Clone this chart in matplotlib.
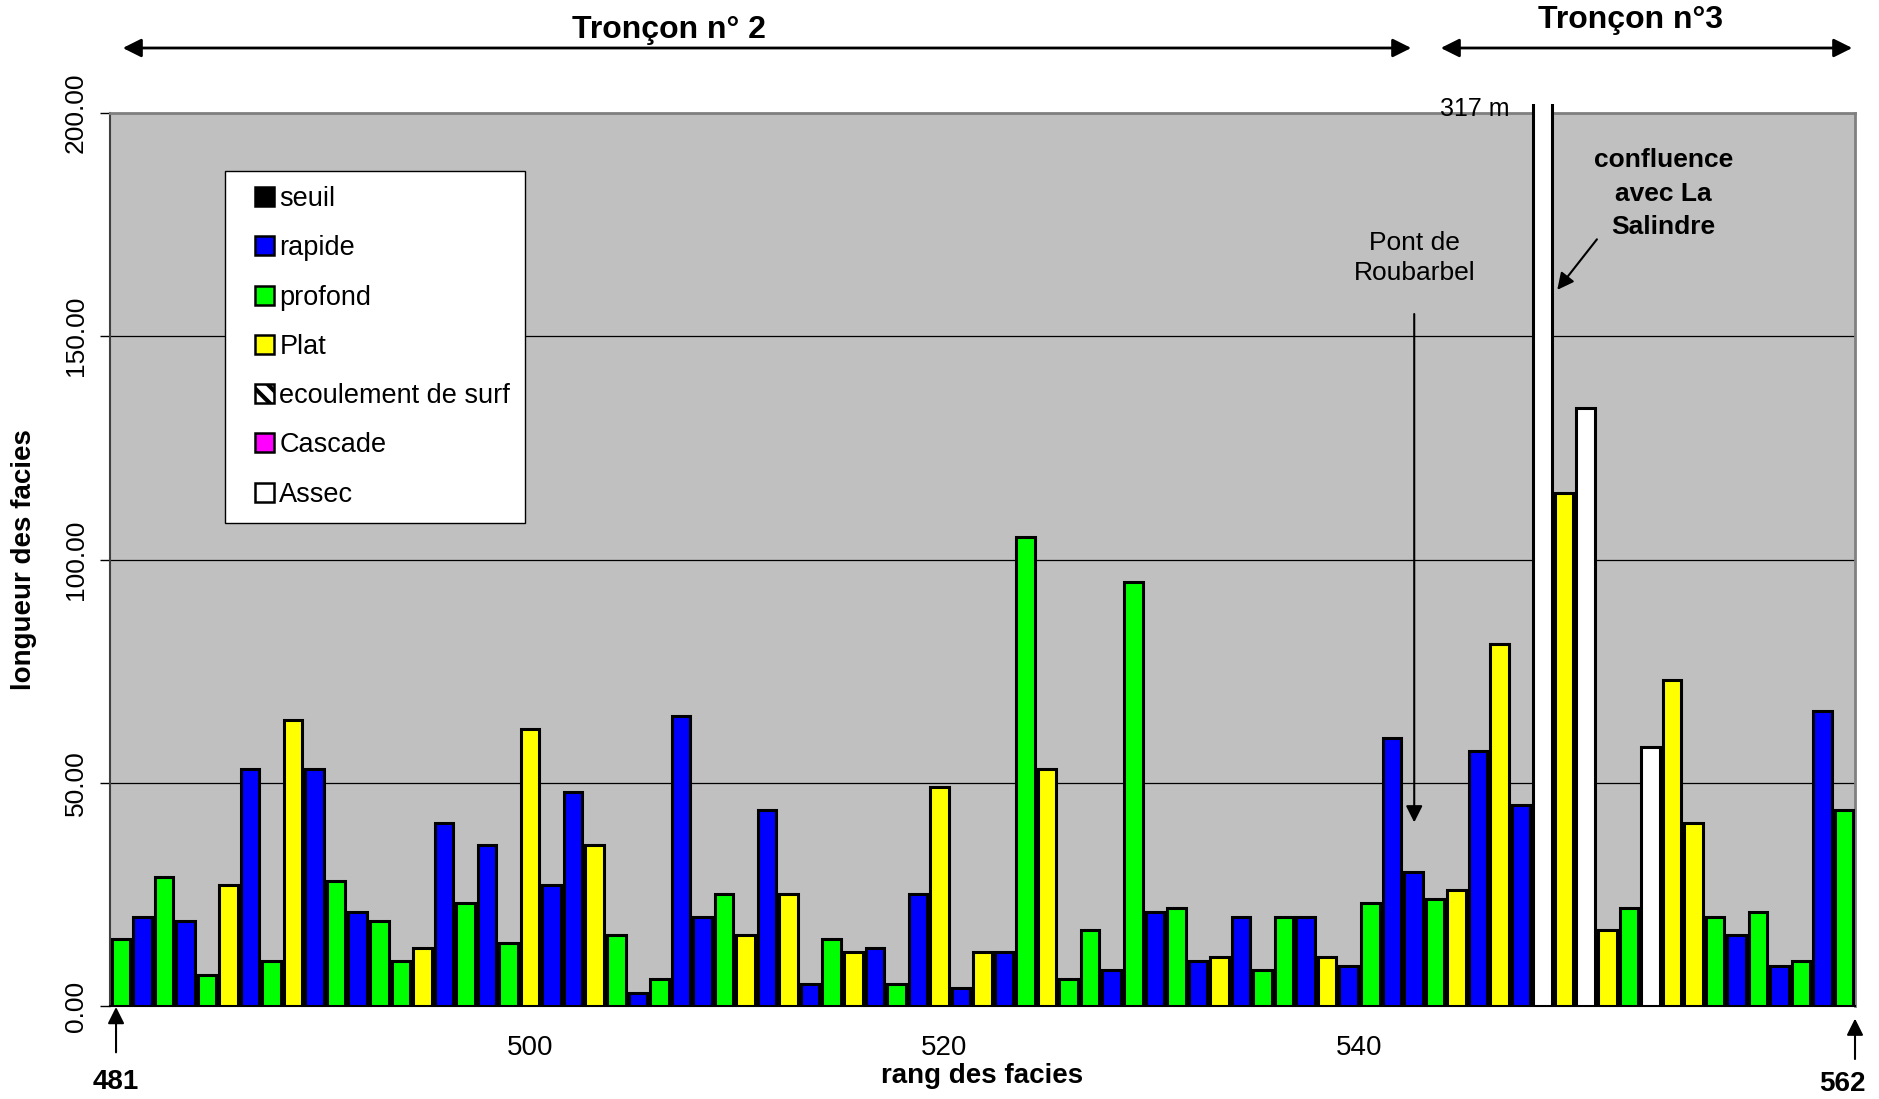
import numpy as np
import matplotlib
matplotlib.use("Agg")
import matplotlib.pyplot as plt
from matplotlib.patches import Patch, FancyArrowPatch, Rectangle
from matplotlib.legend_handler import HandlerPatch
from matplotlib.transforms import Bbox, TransformedBbox

# rang des facies 481..561
rangs = list(range(481, 562))

types = [
    "profond", "rapide", "profond", "rapide", "profond", "Plat", "rapide", "profond", "Plat", "rapide",
    "profond", "rapide", "profond", "profond", "Plat", "rapide", "profond", "rapide", "profond", "Plat",
    "rapide", "rapide", "Plat", "profond", "rapide", "profond", "rapide", "rapide", "profond", "Plat",
    "rapide", "Plat", "rapide", "profond", "Plat", "rapide", "profond", "rapide", "Plat", "rapide",
    "Plat", "rapide", "profond", "Plat", "profond", "profond", "rapide", "profond", "rapide", "profond",
    "rapide", "Plat", "rapide", "profond", "profond", "rapide", "Plat", "rapide", "profond", "rapide",
    "rapide", "profond", "Plat", "rapide", "Plat", "rapide", "Assec", "Plat", "Assec", "Plat",
    "profond", "Assec", "Plat", "Plat", "profond", "rapide", "profond", "rapide", "profond", "rapide",
    "profond",
]

longueurs = [
    15, 20, 29, 19, 7, 27, 53, 10, 64, 53,
    28, 21, 19, 10, 13, 41, 23, 36, 14, 62,
    27, 48, 36, 16, 3, 6, 65, 20, 25, 16,
    44, 25, 5, 15, 12, 13, 5, 25, 49, 4,
    12, 12, 105, 53, 6, 17, 8, 95, 21, 22,
    10, 11, 20, 8, 20, 20, 11, 9, 23, 60,
    30, 24, 26, 57, 81, 45, 317, 115, 134, 17,
    22, 58, 73, 41, 20, 16, 21, 9, 10, 66,
    44,
]

legend_labels = ["seuil", "rapide", "profond", "Plat", "ecoulement de surf", "Cascade", "Assec"]
couleurs = {
    "seuil": "#000000",
    "rapide": "#0000FF",
    "profond": "#00FF00",
    "Plat": "#FFFF00",
    "ecoulement de surf": "#FFFFFF",
    "Cascade": "#FF00FF",
    "Assec": "#FFFFFF",
}

y_ticks = [0, 50, 100, 150, 200]
x_tick_pos = [500, 519.2, 538.5]
x_tick_labels = ["500", "520", "540"]

NARROW = ["Liberation Sans Narrow", "Liberation Sans", "DejaVu Sans"]
plt.rcParams["font.family"] = ["Liberation Sans", "DejaVu Sans"]
plt.rcParams["hatch.linewidth"] = 3


class SquareHandler(HandlerPatch):
    # small square pushed to the right end of the handle box
    def create_artists(self, legend, orig_handle, xdescent, ydescent, width, height,
                       fontsize, trans):
        s = 0.7 * fontsize
        x0 = -xdescent + width - s
        y0 = -ydescent + (height - s) / 2
        p = Rectangle((x0, y0), s, s)
        self.update_prop(p, orig_handle, legend)
        p.set_transform(trans)
        return [p]


fig = plt.figure(figsize=(18.79, 10.99), dpi=100)
ax = fig.add_axes([0.05854, 0.08462, 0.92869, 0.81256])
ax.set_facecolor("#C0C0C0")

bars = ax.bar(rangs, longueurs, width=0.86, color=[couleurs[t] for t in types],
              edgecolor="black", linewidth=2.2, zorder=3)

# the 317 m bar goes a little past the top of the plot
clip = TransformedBbox(Bbox([[480.5, 0], [561.5, 202]]), ax.transData)
for b, v in zip(bars, longueurs):
    if v > 200:
        b.set_clip_on(True)
        b.set_clip_box(clip)
        b.set_clip_path(None)

ax.set_xlim(480.5, 561.5)
ax.set_ylim(0, 200)
ax.set_yticks(y_ticks)
ax.set_yticklabels(["%.2f" % v for v in y_ticks], rotation=90, va="center", fontsize=19)
ax.set_xticks(x_tick_pos)
ax.set_xticklabels(x_tick_labels, family=NARROW, fontsize=20)
ax.tick_params(axis="x", length=0, pad=21)
ax.tick_params(axis="y", direction="out", length=7, width=1, pad=9)
ax.yaxis.grid(True, color="black", linewidth=0.9, zorder=1)
ax.set_axisbelow(True)

for s in ["top", "right"]:
    ax.spines[s].set_color("#808080")
    ax.spines[s].set_linewidth(2)
ax.spines["left"].set_color("#404040")
ax.spines["left"].set_linewidth(1.5)
ax.spines["bottom"].set_color("black")
ax.spines["bottom"].set_linewidth(1.5)

# legend
handles = []
for lab in legend_labels:
    if lab == "ecoulement de surf":
        handles.append(Patch(facecolor="white", edgecolor="black", hatch="\\\\", linewidth=1.8))
    else:
        handles.append(Patch(facecolor=couleurs[lab], edgecolor="black", linewidth=1.8))
leg = ax.legend(handles, legend_labels, loc="upper left", bbox_to_anchor=(0.066, 0.935),
                fontsize=19.5, handlelength=1.25, handleheight=0.7, handletextpad=0.2,
                labelspacing=0.86, borderpad=0.55, borderaxespad=0, fancybox=False,
                framealpha=1, edgecolor="black", frameon=True,
                handler_map={Patch: SquareHandler()})
leg.get_frame().set_linewidth(1)
leg.set_zorder(5)

# labels
fig.text(0.5226, 1 - 1076 / 1099, "rang des facies", family=NARROW, fontweight="bold",
         fontsize=20, ha="center", va="center")
fig.text(24 / 1879, 1 - 560 / 1099, "longueur des facies", family=NARROW, fontweight="bold",
         fontsize=20, rotation=90, ha="center", va="center")

# troncons
fig.text(669 / 1879, 1 - 30 / 1099, "Tronçon n° 2", family=NARROW, fontweight="bold",
         fontsize=23, ha="center", va="center")
fig.text(1631 / 1879, 1 - 20 / 1099, "Tronçon n°3", family=NARROW, fontweight="bold",
         fontsize=23, ha="center", va="center")
arr = dict(arrowstyle="<|-|>", color="black", lw=2, mutation_scale=28)
y_arr = 1 - 48 / 1099
fig.add_artist(FancyArrowPatch((120 / 1879, y_arr), (1414 / 1879, y_arr),
                               transform=fig.transFigure, **arr))
fig.add_artist(FancyArrowPatch((1438 / 1879, y_arr), (1855 / 1879, y_arr),
                               transform=fig.transFigure, **arr))

# annotations
ax.text(543.83, 200.9, "317 m", fontsize=18, ha="center", va="center", zorder=6)
ax.text(541.04, 167.5, "Pont de\nRoubarbel", fontsize=19, ha="center", va="center",
        linespacing=1.3, zorder=6)
ax.annotate("", xy=(541.04, 40.5), xytext=(541.04, 155.6),
            arrowprops=dict(arrowstyle="-|>", color="black", lw=1.5, mutation_scale=25), zorder=6)
ax.text(552.6, 181.9, "confluence\navec La\nSalindre", fontsize=19, fontweight="bold",
        ha="center", va="center", linespacing=1.5, zorder=6)
ax.annotate("", xy=(547.6, 159.9), xytext=(549.6, 172.2),
            arrowprops=dict(arrowstyle="-|>", color="black", lw=1.5, mutation_scale=25), zorder=6)

ax.annotate("", xy=(480.78, 0.4), xytext=(480.78, -11),
            arrowprops=dict(arrowstyle="-|>", color="black", lw=1.5, mutation_scale=25),
            annotation_clip=False)
ax.text(480.78, -17, "481", family=NARROW, fontweight="bold", fontsize=20,
        ha="center", va="center", clip_on=False)
ax.annotate("", xy=(561.5, -2.2), xytext=(561.5, -12.5),
            arrowprops=dict(arrowstyle="-|>", color="black", lw=1.5, mutation_scale=25),
            annotation_clip=False)
ax.text(560.9, -17.5, "562", family=NARROW, fontweight="bold", fontsize=20,
        ha="center", va="center", clip_on=False)

fig.savefig("out.png", dpi=100)
